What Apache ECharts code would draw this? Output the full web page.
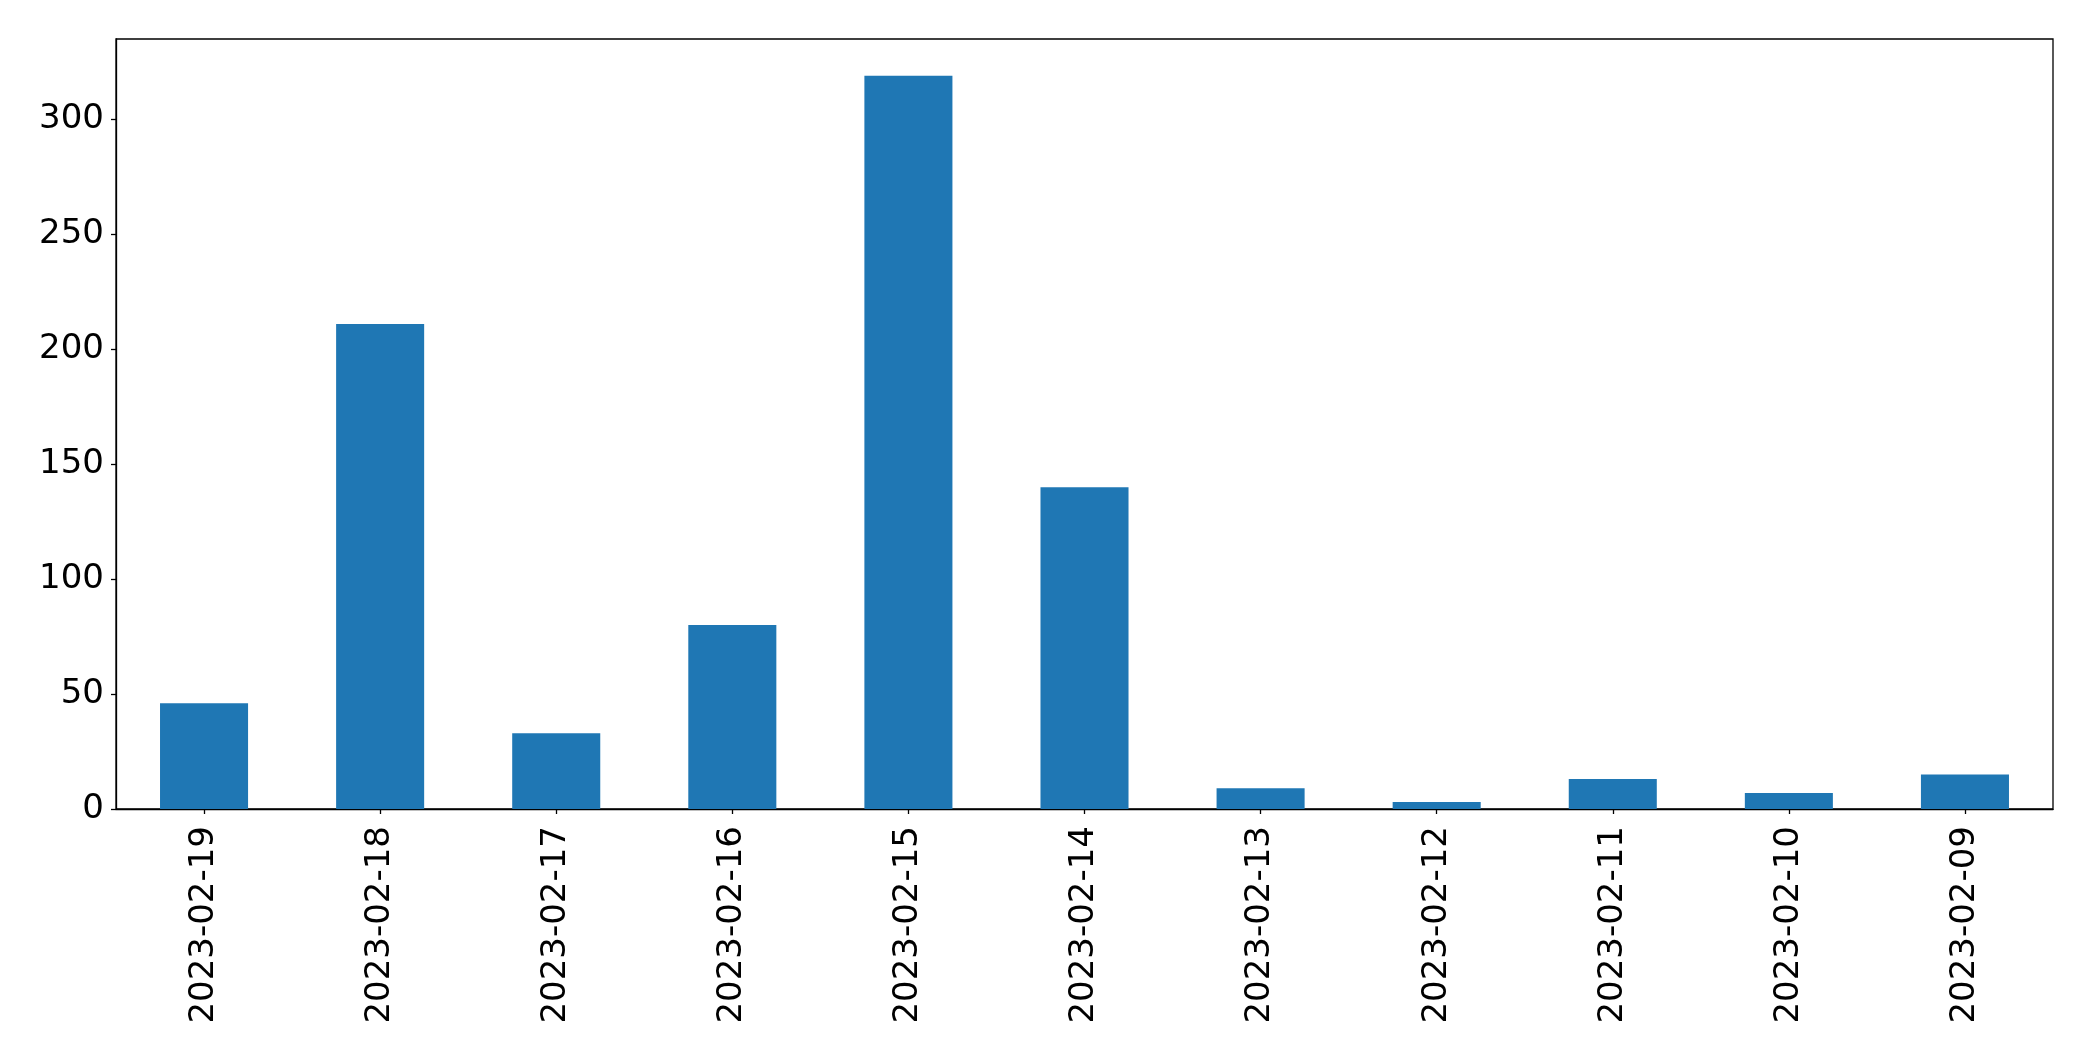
<!DOCTYPE html>
<html>
<head>
<meta charset="utf-8">
<script src="https://cdn.jsdelivr.net/npm/echarts@6/dist/echarts.min.js"></script>
<style>
html,body{margin:0;padding:0;background:#fff;}
#chart{width:2093px;height:1061px;}
</style>
</head>
<body>
<div id="chart"></div>
<script>
const categories = ["2023-02-19","2023-02-18","2023-02-17","2023-02-16","2023-02-15","2023-02-14","2023-02-13","2023-02-12","2023-02-11","2023-02-10","2023-02-09"];
const values = [46, 211, 33, 80, 319, 140, 9, 3, 13, 7, 15];
const yTicks = [0, 50, 100, 150, 200, 250, 300];

const chart = echarts.init(document.getElementById('chart'), null, {renderer: 'canvas'});
const font = 'DejaVu Sans';
chart.setOption({
  animation: false,
  backgroundColor: '#ffffff',
  grid: {left: 116, top: 39, right: 40, bottom: 252, show: true, borderColor: '#000', borderWidth: 1.3, backgroundColor: 'transparent'},
  xAxis: {
    type: 'category',
    data: categories,
    axisLine: {show: true, lineStyle: {color: '#000', width: 1.3}},
    axisTick: {show: true, alignWithLabel: true, length: 5, lineStyle: {color: '#000', width: 1.3}},
    axisLabel: {rotate: 90, margin: 17, color: '#000', fontFamily: font, fontSize: 34, interval: 0},
    splitLine: {show: false}
  },
  yAxis: {
    type: 'value',
    min: 0,
    max: 334.95,
    axisLine: {show: true, lineStyle: {color: '#000', width: 1.3}},
    axisTick: {show: true, length: 5, customValues: yTicks, lineStyle: {color: '#000', width: 1.3}},
    axisLabel: {
      margin: 12, color: '#000', fontFamily: font, fontSize: 34,
      customValues: yTicks
    },
    splitLine: {show: false}
  },
  series: [{
    type: 'bar',
    data: values,
    barWidth: '50%',
    itemStyle: {color: '#1f77b4'}
  }]
});
</script>
</body>
</html>
